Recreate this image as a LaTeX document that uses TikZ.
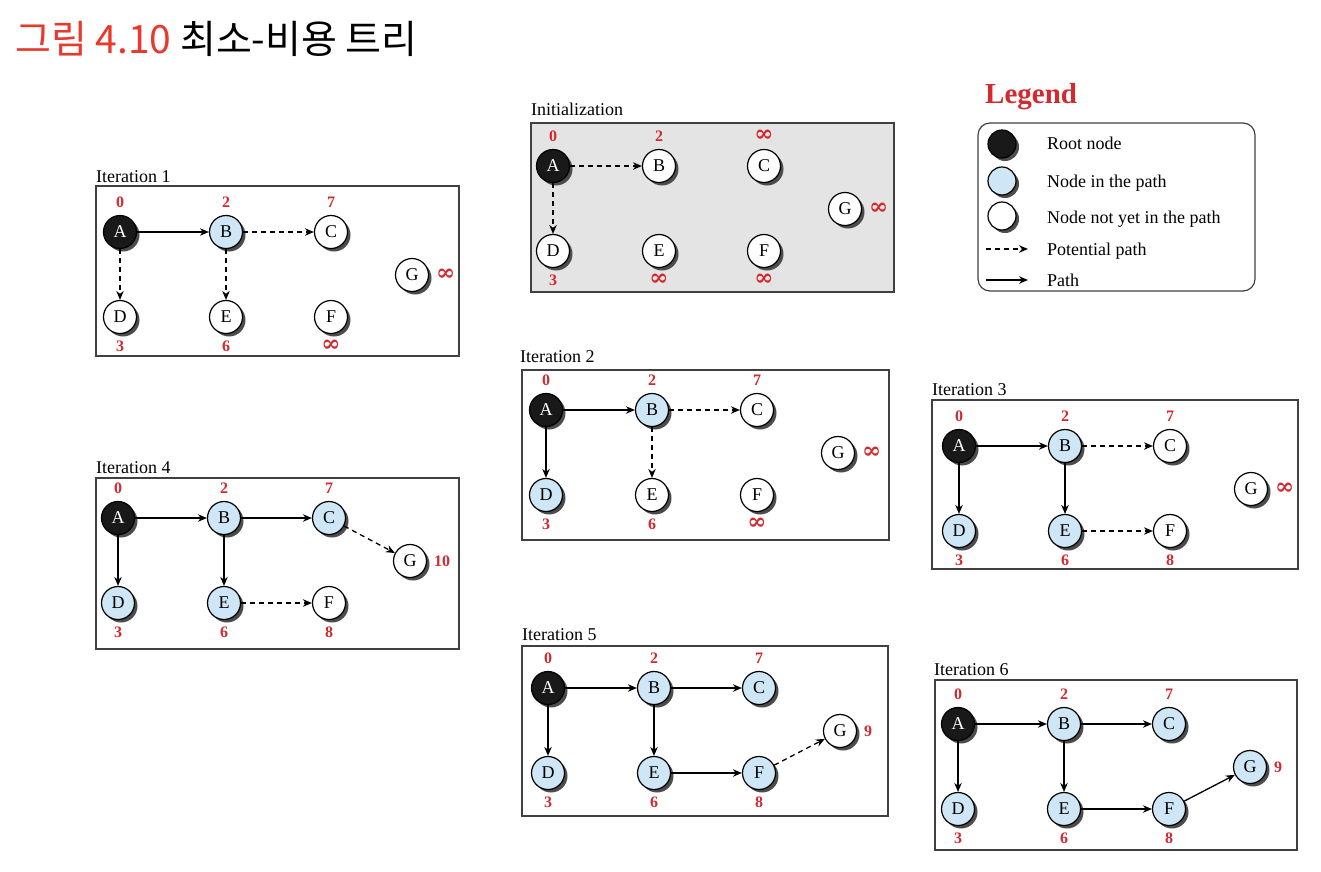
\documentclass[tikz,border=0pt]{standalone}
\usepackage{fontspec}
\setmainfont{Liberation Serif}
\newfontfamily\cjk{Noto Sans CJK KR}
\newfontfamily\djv{DejaVu Serif}
\newcommand\infsym{{\djv\bfseries\fontsize{23}{23}\selectfont ∞}}
\usetikzlibrary{arrows.meta,shadows}
\definecolor{costred}{HTML}{D22A2F}
\definecolor{titlered}{HTML}{E8392C}
\definecolor{pathblue}{HTML}{CFE6F6}
\definecolor{initgray}{HTML}{E4E4E4}
\definecolor{boxline}{HTML}{404040}
\tikzset{
 vtx/.style={circle, draw=black, line width=1.2pt, minimum size=33pt, inner sep=0pt,
   font=\fontsize{18}{18}\selectfont,
   drop shadow={shadow xshift=3pt, shadow yshift=-3pt, fill=black!70, opacity=1}},
 rootv/.style={vtx, fill=black!90, text=white},
 inv/.style={vtx, fill=pathblue},
 outv/.style={vtx, fill=white},
 lvtx/.style={minimum size=28pt},
 cost/.style={text=costred, font=\fontsize{16}{16}\selectfont\bfseries, inner sep=0pt},
 panel/.style={draw=boxline, line width=1.2pt},
 ptitle/.style={anchor=base west, font=\fontsize{18}{18}\selectfont, inner sep=0pt},
 ltext/.style={anchor=base west, font=\fontsize{18}{18}\selectfont, inner sep=0pt},
 pe/.style={-{Stealth[length=9pt,width=7.5pt]}, line width=1.3pt, black},
 pp/.style={pe, dash pattern=on 5pt off 4pt},
}
\newcommand\sevennodes[8]{%
 \node[#2] (#1A) at (0,0) {A};
 \node[#3] (#1B) at (106,0) {B};
 \node[#4] (#1C) at (211,0) {C};
 \node[#5] (#1D) at (0,85) {D};
 \node[#6] (#1E) at (106,85) {E};
 \node[#7] (#1F) at (211,85) {F};
 \node[#8] (#1G) at (292,43) {G};
}
\newcommand\sevencosts[8]{%
 \node[cost] (#1cA) at (0,-30) {#2};
 \node[cost] (#1cB) at (106,-30) {#3};
 \node[cost] (#1cC) at (211,-30) {#4};
 \node[cost] (#1cD) at (0,114) {#5};
 \node[cost] (#1cE) at (106,114) {#6};
 \node[cost] (#1cF) at (211,114) {#7};
 \node[cost, anchor=west] (#1cG) at (316,43) {#8};
}
\begin{document}
\begin{tikzpicture}[x=1pt,y=-1pt]
\useasboundingbox (0,0) rectangle (1321,871);

% title
\node[anchor=base west, inner sep=0pt, font=\cjk\fontsize{39}{39}\selectfont] (title) at (15,53)
  {\textcolor{titlered}{그림 4.10} 최소-비용 트리};

% ---------- Initialization
\draw[panel, fill=initgray] (531,123) rectangle (894,292);
\node[ptitle] (tInit) at (531,115) {Initialization};
\begin{scope}[shift={(553,166)}]
 \sevennodes{i}{rootv}{outv}{outv}{outv}{outv}{outv}{outv}
 \sevencosts{i}{0}{2}{\infsym}{3}{\infsym}{\infsym}{\infsym}
 \draw[pp] (iA) -- (iB);
 \draw[pp] (iA) -- (iD);
\end{scope}

% ---------- Iteration 1
\draw[panel] (96,186) rectangle (459,356);
\node[ptitle] (tOne) at (96,182) {Iteration 1};
\begin{scope}[shift={(120,232)}]
 \sevennodes{a}{rootv}{inv}{outv}{outv}{outv}{outv}{outv}
 \sevencosts{a}{0}{2}{7}{3}{6}{\infsym}{\infsym}
 \draw[pe] (aA) -- (aB);
 \draw[pp] (aB) -- (aC);
 \draw[pp] (aA) -- (aD);
 \draw[pp] (aB) -- (aE);
\end{scope}

% ---------- Iteration 2
\draw[panel] (522,370) rectangle (889,540);
\node[ptitle] (tTwo) at (520,362) {Iteration 2};
\begin{scope}[shift={(546,410)}]
 \sevennodes{b}{rootv}{inv}{outv}{inv}{outv}{outv}{outv}
 \sevencosts{b}{0}{2}{7}{3}{6}{\infsym}{\infsym}
 \draw[pe] (bA) -- (bB);
 \draw[pp] (bB) -- (bC);
 \draw[pe] (bA) -- (bD);
 \draw[pp] (bB) -- (bE);
\end{scope}

% ---------- Iteration 3
\draw[panel] (932,400) rectangle (1298,569);
\node[ptitle] (tThree) at (932,395) {Iteration 3};
\begin{scope}[shift={(959,446)}]
 \sevennodes{c}{rootv}{inv}{outv}{inv}{inv}{outv}{outv}
 \sevencosts{c}{0}{2}{7}{3}{6}{8}{\infsym}
 \draw[pe] (cA) -- (cB);
 \draw[pp] (cB) -- (cC);
 \draw[pe] (cA) -- (cD);
 \draw[pe] (cB) -- (cE);
 \draw[pp] (cE) -- (cF);
\end{scope}

% ---------- Iteration 4
\draw[panel] (96,478) rectangle (459,649);
\node[ptitle] (tFour) at (96,473) {Iteration 4};
\begin{scope}[shift={(118,518)}]
 \sevennodes{d}{rootv}{inv}{inv}{inv}{inv}{outv}{outv}
 \sevencosts{d}{0}{2}{7}{3}{6}{8}{10}
 \draw[pe] (dA) -- (dB);
 \draw[pe] (dB) -- (dC);
 \draw[pe] (dA) -- (dD);
 \draw[pe] (dB) -- (dE);
 \draw[pp] (dE) -- (dF);
 \draw[pp] (dC) -- (dG);
\end{scope}

% ---------- Iteration 5
\draw[panel] (522,646) rectangle (888,816);
\node[ptitle] (tFive) at (522,640) {Iteration 5};
\begin{scope}[shift={(548,688)}]
 \sevennodes{e}{rootv}{inv}{inv}{inv}{inv}{inv}{outv}
 \sevencosts{e}{0}{2}{7}{3}{6}{8}{9}
 \draw[pe] (eA) -- (eB);
 \draw[pe] (eB) -- (eC);
 \draw[pe] (eA) -- (eD);
 \draw[pe] (eB) -- (eE);
 \draw[pe] (eE) -- (eF);
 \draw[pp] (eF) -- (eG);
\end{scope}

% ---------- Iteration 6
\draw[panel] (935,680) rectangle (1297,850);
\node[ptitle] (tSix) at (934,675) {Iteration 6};
\begin{scope}[shift={(958,724)}]
 \sevennodes{f}{rootv}{inv}{inv}{inv}{inv}{inv}{inv}
 \sevencosts{f}{0}{2}{7}{3}{6}{8}{9}
 \draw[pe] (fA) -- (fB);
 \draw[pe] (fB) -- (fC);
 \draw[pe] (fA) -- (fD);
 \draw[pe] (fB) -- (fE);
 \draw[pe] (fE) -- (fF);
 \draw[pe] (fF) -- (fG);
\end{scope}

% ---------- Legend
\node[anchor=base west, inner sep=0pt, text=costred, font=\fontsize{29}{29}\selectfont\bfseries] (lgTitle) at (985,103) {Legend};
\draw[panel, rounded corners=12pt] (978,123) rectangle (1255,291);
\node[rootv, lvtx] (lgRoot) at (1002,144) {};
\node[inv, lvtx] (lgIn) at (1002,181) {};
\node[outv, lvtx] (lgOut) at (1002,216) {};
\node[ltext] (lgT1) at (1047,149) {Root node};
\node[ltext] (lgT2) at (1047,187) {Node in the path};
\node[ltext] (lgT3) at (1047,223) {Node not yet in the path};
\node[ltext] (lgT4) at (1047,255) {Potential path};
\node[ltext] (lgT5) at (1047,286) {Path};
\coordinate (lgPs) at (986,249);
\coordinate (lgPe) at (1028,249);
\coordinate (lgSs) at (986,280);
\coordinate (lgSe) at (1028,280);
\draw[pp] (lgPs) -- (lgPe);
\draw[pe] (lgSs) -- (lgSe);
\end{tikzpicture}
\end{document}
